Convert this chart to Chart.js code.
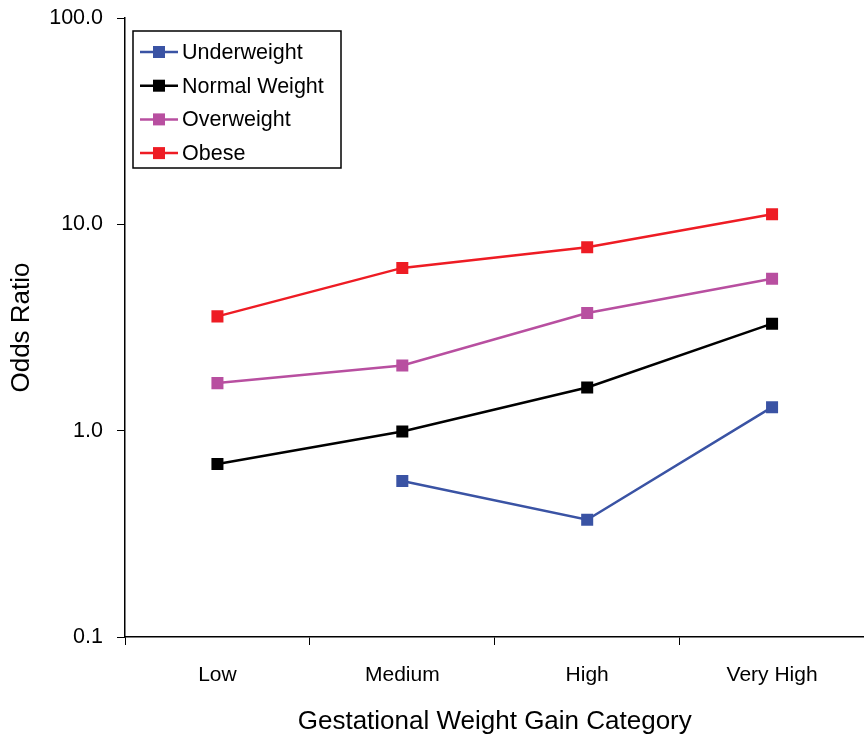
<!DOCTYPE html>
<html>
<head>
<meta charset="utf-8">
<script src="https://cdn.jsdelivr.net/npm/chart.js@4/dist/chart.umd.min.js"></script>
<style>
  body { margin: 0; background: #fff; overflow: hidden; }
  #wrap { width: 864px; height: 737px; position: relative; overflow: hidden; }
  #chart { position: absolute; left: 0; top: 0; }
</style>
</head>
<body>
<!-- canvas is a bit wider than the window: Chart.js keeps a small right gutter, which gets cropped -->
<div id="wrap"><canvas id="chart" width="873" height="737"></canvas></div>
<script>
// Data
const categories = ['Low', 'Medium', 'High', 'Very High'];
const underweight = [null, 0.57, 0.37, 1.3];
const normalWeight = [0.69, 0.99, 1.62, 3.3];
const overweight = [1.7, 2.07, 3.72, 5.45];
const obese = [3.58, 6.15, 7.75, 11.2];
const yTicks = [0.1, 1, 10, 100];

const seriesNames = ['Underweight', 'Normal Weight', 'Overweight', 'Obese'];
const seriesColors = ['#3a53a4', '#000000', '#b84fa0', '#ee1c24'];
const seriesData = [underweight, normalWeight, overweight, obese];

const FONT = 'Arial, "Liberation Sans", Helvetica, sans-serif';

// Boxed legend drawn inside the plot area, top-left
const boxLegend = {
    id: 'boxLegend',
    afterDraw(chart) {
        const ctx = chart.ctx;
        const left = 133, top = 31, right = 341, bottom = 168;
        ctx.save();
        ctx.fillStyle = '#fff';
        ctx.fillRect(left, top, right - left, bottom - top);
        ctx.strokeStyle = '#000';
        ctx.lineWidth = 1.5;
        ctx.strokeRect(left, top, right - left, bottom - top);
        ctx.font = '21.5px ' + FONT;
        ctx.textBaseline = 'middle';
        chart.data.datasets.forEach((ds, i) => {
            const y = 52 + i * 33.7;
            ctx.strokeStyle = ds.borderColor;
            ctx.lineWidth = 2.5;
            ctx.beginPath();
            ctx.moveTo(140, y);
            ctx.lineTo(178, y);
            ctx.stroke();
            ctx.fillStyle = ds.borderColor;
            ctx.fillRect(153, y - 6, 12, 12);
            ctx.fillStyle = '#000';
            ctx.fillText(ds.label, 182, y + 1);
        });
        ctx.restore();
    }
};

const datasets = seriesNames.map((name, i) => ({
    label: name,
    data: seriesData[i],
    borderColor: seriesColors[i],
    backgroundColor: seriesColors[i],
    borderWidth: 2.5,
    pointStyle: 'rect',
    pointRadius: 8.5,
    pointBorderWidth: 0,
    pointHoverRadius: 8.5,
    spanGaps: false,
    tension: 0
}));

new Chart(document.getElementById('chart'), {
    type: 'line',
    data: { labels: categories, datasets: datasets },
    plugins: [boxLegend],
    options: {
        responsive: false,
        animation: false,
        layout: { padding: { top: 18, right: 0, left: 0, bottom: 0 } },
        plugins: {
            legend: { display: false },
            tooltip: { enabled: false }
        },
        scales: {
            x: {
                type: 'category',
                offset: true,
                grid: {
                    offset: true,
                    drawOnChartArea: false,
                    drawTicks: true,
                    tickLength: 8,
                    color: '#000',
                    lineWidth: 1
                },
                border: { display: true, color: '#000', width: 1.5 },
                ticks: {
                    color: '#000',
                    padding: 18,
                    font: { family: FONT, size: 21 }
                },
                title: {
                    display: true,
                    text: 'Gestational Weight Gain Category',
                    color: '#000',
                    font: { family: FONT, size: 26 },
                    padding: { top: 18, bottom: 0 }
                },
                afterFit(scale) {
                    scale.height = 100;
                    scale.paddingLeft = 0;
                    scale.paddingRight = 0;
                }
            },
            y: {
                type: 'logarithmic',
                min: 0.1,
                max: 100,
                afterBuildTicks(scale) {
                    scale.ticks = yTicks.map(v => ({ value: v, major: true }));
                },
                grid: {
                    drawOnChartArea: false,
                    drawTicks: true,
                    tickLength: 8,
                    color: '#000',
                    lineWidth: 1
                },
                border: { display: true, color: '#000', width: 1.5 },
                ticks: {
                    color: '#000',
                    padding: 14,
                    autoSkip: false,
                    font: { family: FONT, size: 21.5 },
                    callback: v => Number(v).toFixed(1)
                },
                title: {
                    display: true,
                    text: 'Odds Ratio',
                    color: '#000',
                    font: { family: FONT, size: 26 },
                    padding: { top: 6, bottom: 0 }
                },
                afterFit(scale) {
                    scale.width = 125;
                    scale.paddingTop = 0;
                    scale.paddingBottom = 0;
                }
            }
        }
    }
});
</script>
</body>
</html>
